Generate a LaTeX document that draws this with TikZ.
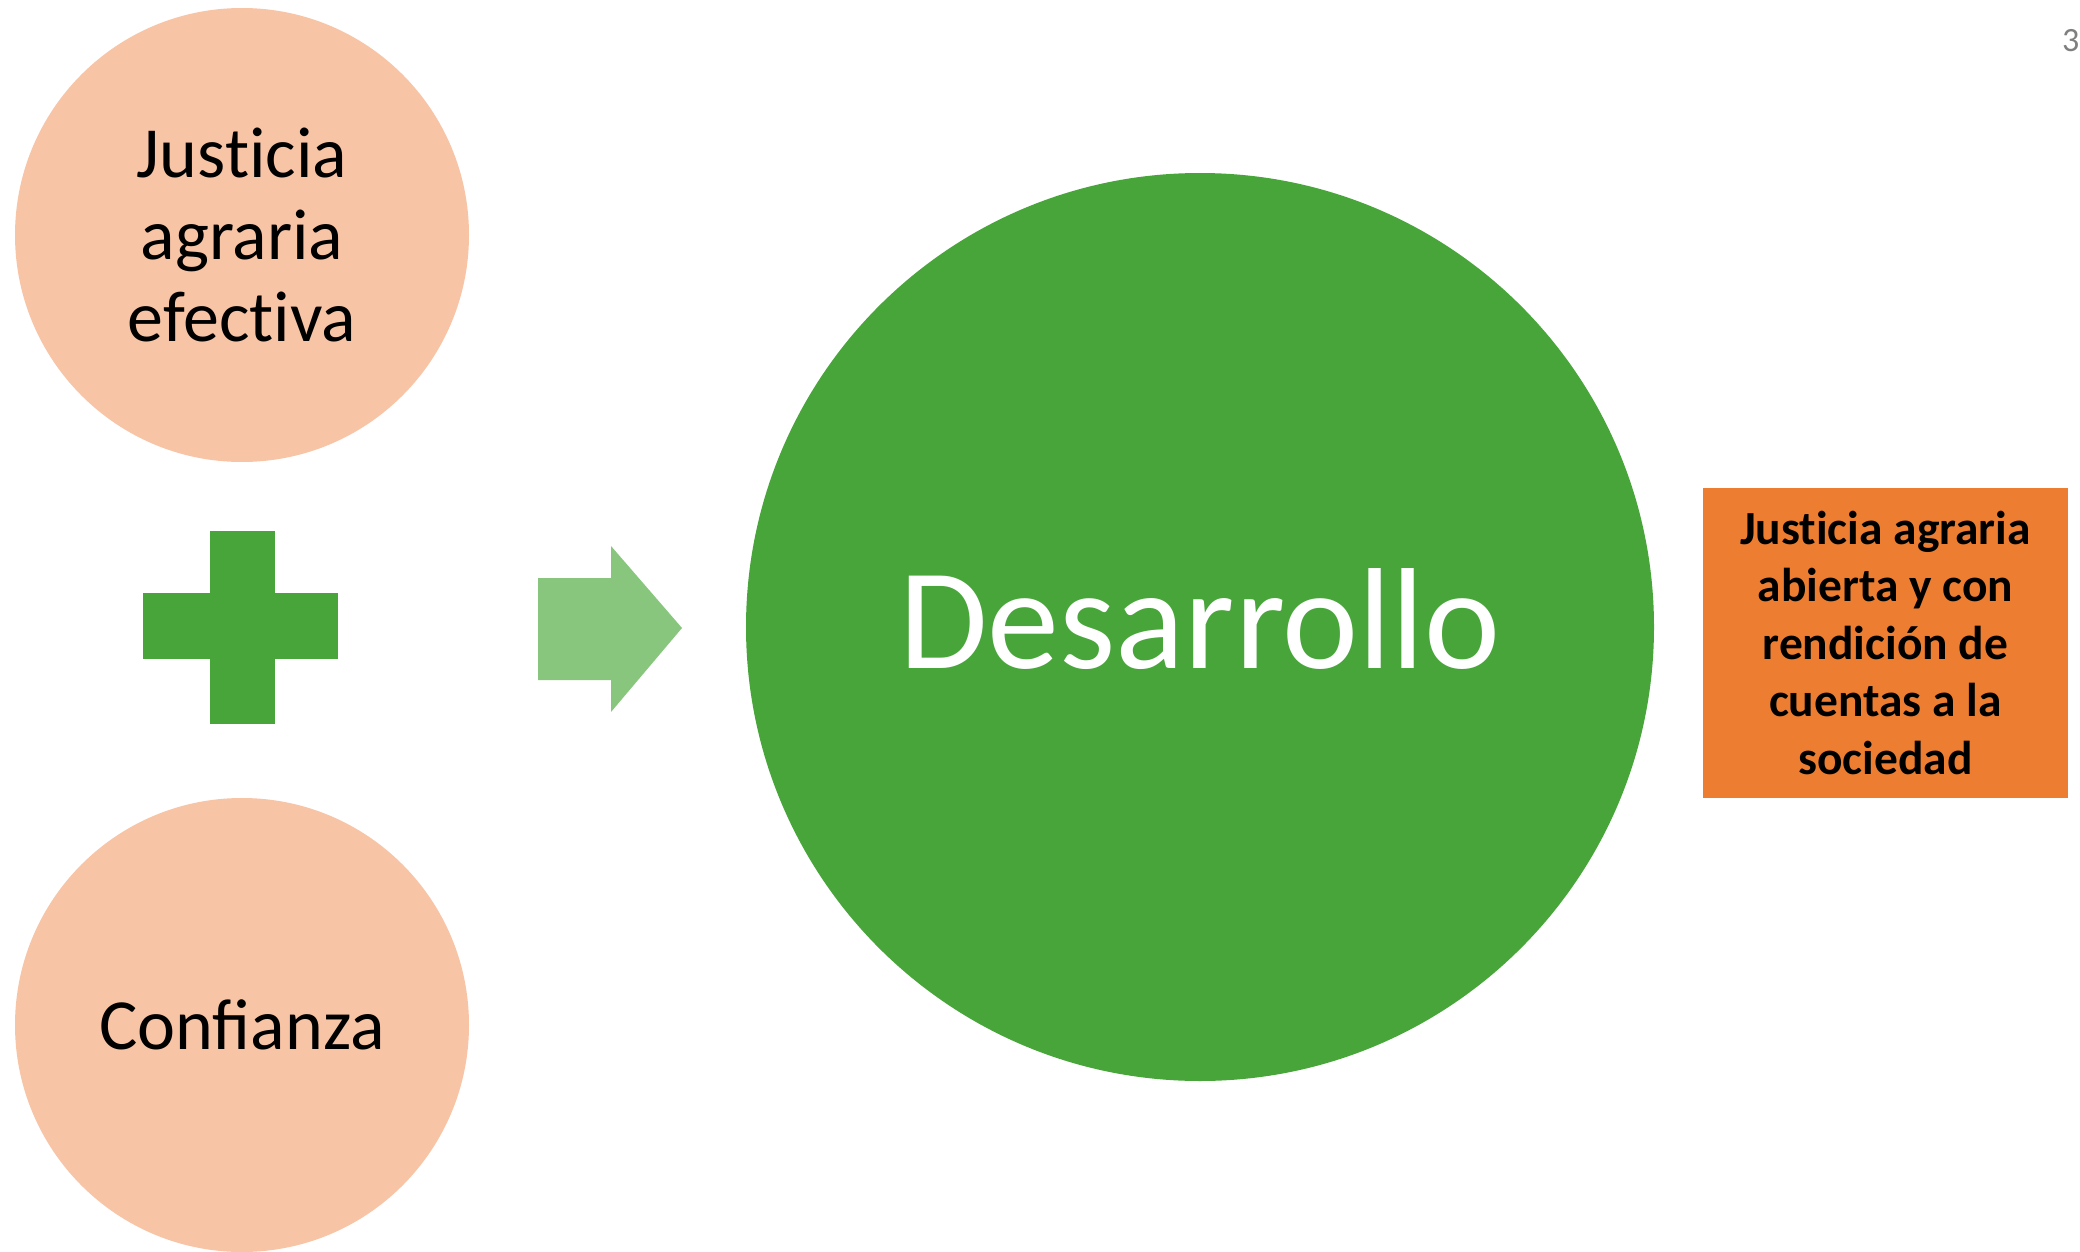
\documentclass[tikz,border=0pt]{standalone}
\usepackage{fontspec}
\setmainfont{Carlito}
\definecolor{peach}{HTML}{F8C4A6}
\definecolor{dgreen}{HTML}{47A53A}
\definecolor{lgreen}{HTML}{88C67E}
\definecolor{orangebox}{HTML}{ED7D31}
\definecolor{pagegray}{HTML}{7F7F7F}
\newcommand{\nt}{t\kern0pt i}
\begin{document}
\begin{tikzpicture}[x=1pt,y=-1pt,
  peachcircle/.style={circle,fill=peach,draw=none,minimum size=454pt,inner sep=0pt,align=center,
    font=\fontsize{72}{82}\selectfont,text=black},
  bigcircle/.style={circle,fill=dgreen,draw=none,minimum size=908pt,inner sep=0pt},
  bigtext/.style={inner sep=0pt,font=\fontsize{144}{160}\selectfont,text=white},
  orbox/.style={rectangle,fill=orangebox,draw=none,minimum width=365pt,minimum height=310pt,
    inner sep=0pt,align=center,font=\bfseries\fontsize{47.5}{57.5}\selectfont,text=black}]
\useasboundingbox (0,0) rectangle (2080,1252);
\fill[white] (0,0) rectangle (2080,1252);
\node[peachcircle] (top) at (242,235) {Jus\nt cia\\agraria\\efec\nt va};
\node[peachcircle] (bot) at (242,1025) {Confianza};
% plus sign
\fill[dgreen] (210,531) rectangle (275,724);
\fill[dgreen] (143,593) rectangle (338,659);
% arrow
\fill[lgreen] (538,578) -- (611,578) -- (611,546) -- (682,628) -- (611,712) -- (611,680) -- (538,680) -- cycle;
\node[bigcircle] (dev) at (1200,627) {};
\node[bigtext] (devtext) at (1200,619) {Desarrollo};
\node[orbox] (box) at (1885.5,643) {Jus\nt cia agraria\\abierta y con\\rendición de\\cuentas a la\\sociedad};
\node[anchor=base west,inner sep=0pt,text=pagegray,font=\fontsize{34}{40}\selectfont] (pg) at (2062,52) {3};
\end{tikzpicture}
\end{document}
